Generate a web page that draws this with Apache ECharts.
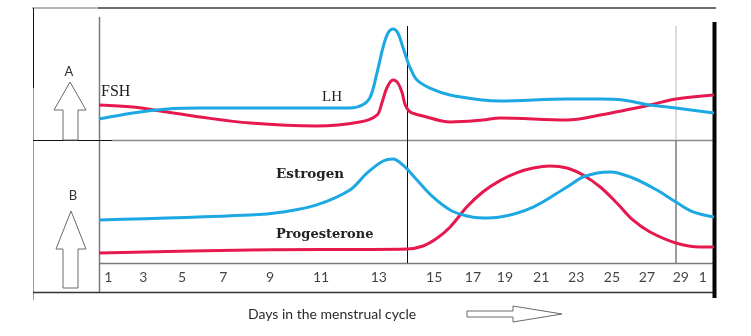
<!DOCTYPE html>
<html>
<head>
<meta charset="utf-8">
<script src="https://cdn.jsdelivr.net/npm/echarts@6/dist/echarts.min.js"></script>
<style>
  html, body { margin: 0; padding: 0; background: #fff; }
  #chart { width: 751px; height: 336px; }
</style>
</head>
<body>
<div id="chart"></div>
<script>
// Horizontal position is expressed as % of the cycle width (0 = day 1, 100 = next day 1).
// Hormone levels are relative (0-100) within each panel.

// Panel A: pituitary hormones
const fshData = [
  [0, 30.7], [5.5, 28.9], [11.1, 24.6], [16.4, 20.2], [24.6, 14.9], [35.4, 12.3],
  [42.4, 15.8], [45.2, 21.9], [46.0, 32.5], [46.8, 45.6], [47.8, 52.6], [48.6, 50.0],
  [49.3, 41.2], [49.8, 30.7], [50.6, 24.6], [52.7, 21.1], [57.1, 15.8], [62.4, 17.5],
  [65.2, 19.3], [76.1, 17.5], [81.5, 21.9], [89.6, 30.7], [93.8, 36.0], [100, 39.5]
];
const lhData = [
  [0, 18.4], [5.5, 23.7], [11.1, 27.2], [16.4, 28.1], [24.6, 28.1], [40.8, 28.1],
  [42.8, 30.7], [44.1, 37.7], [45.2, 58.8], [46.2, 81.6], [47.0, 93.9], [47.8, 97.4],
  [48.6, 93.9], [49.4, 81.6], [50.1, 70.2], [50.6, 63.2], [51.7, 52.6], [53.8, 45.6],
  [57.1, 39.5], [62.4, 35.1], [65.2, 34.2], [76.1, 36.0], [81.5, 36.0], [85.2, 35.1],
  [89.6, 30.7], [93.8, 28.1], [100, 23.7]
];

// Panel B: ovarian hormones
const estrogenData = [
  [0, 35.0], [24.6, 39.0], [29.9, 41.5], [35.4, 47.2], [40.8, 59.3], [43.6, 73.2],
  [46.2, 82.9], [47.8, 84.6], [49.4, 79.7], [51.7, 67.5], [54.3, 53.7], [57.1, 43.1],
  [59.8, 38.2], [62.4, 36.6], [65.2, 37.4], [70.6, 45.5], [76.1, 61.8], [79.0, 70.5],
  [83.1, 74.0], [86.8, 69.1], [90.7, 59.3], [93.8, 49.6], [96.6, 41.5], [100, 37.4]
];
const progesteroneData = [
  [0, 8.1], [24.6, 10.6], [50.1, 11.4], [52.7, 13.8], [55.0, 20.3], [57.1, 29.3],
  [59.8, 45.5], [62.4, 57.7], [65.2, 67.0], [68.0, 73.5], [70.6, 77.2], [73.3, 78.9],
  [76.1, 77.2], [78.7, 71.5], [81.5, 61.8], [84.2, 48.8], [86.8, 35.0], [89.6, 25.2],
  [93.8, 16.3], [97.7, 13.0], [100, 13.0]
];

// Day tick labels and where they sit along the cycle
const dayLabels = ['1', '3', '5', '7', '9', '11', '13', '15', '17', '19', '21', '23', '25', '27', '29', '1'];
const dayPositions = [1.5, 7.2, 13.5, 20.2, 27.8, 36.1, 45.5, 54.5, 60.8, 66.0, 71.9, 77.6, 83.4, 89.1, 94.6, 98.2];

// Ovulation (day 14) and end of cycle markers
const ovulationPos = 50.1;
const cycleEndPos = 93.8;

const RED = '#e5194e';
const BLUE = '#1ca8e2';

const chart = echarts.init(document.getElementById('chart'), null, { renderer: 'canvas' });

const hiddenX = (gridIndex) => ({
  type: 'value', gridIndex, min: 0, max: 100,
  axisLine: { show: false }, axisTick: { show: false }, axisLabel: { show: false }, splitLine: { show: false }
});
const hiddenY = (gridIndex, max) => ({
  type: 'value', gridIndex, min: 0, max,
  axisLine: { show: false }, axisTick: { show: false }, axisLabel: { show: false }, splitLine: { show: false }
});

const curve = (data, color, gridIndex) => ({
  type: 'line', xAxisIndex: gridIndex, yAxisIndex: gridIndex, data,
  smooth: 0.35, showSymbol: false, symbol: 'none',
  lineStyle: { color, width: 3 }, clip: false, silent: true, z: 5
});

const markers = (endColor) => ({
  silent: true, symbol: 'none', label: { show: false },
  data: [
    { xAxis: ovulationPos, lineStyle: { color: '#111', width: 1, type: 'solid' } },
    { xAxis: cycleEndPos, lineStyle: { color: endColor, width: 1.5, type: 'solid' } }
  ]
});

const fshSeries = curve(fshData, RED, 0);
fshSeries.markLine = markers('#cfcfcf');
const progSeries = curve(progesteroneData, RED, 1);
progSeries.markLine = markers('#7a7a7a');

const line = (x1, y1, x2, y2, stroke, lineWidth) => ({
  type: 'line', shape: { x1, y1, x2, y2 }, style: { stroke, lineWidth }, silent: true
});
const arrow = (points) => ({
  type: 'polygon', shape: { points }, style: { fill: '#fff', stroke: '#6a6a6a', lineWidth: 1 }, silent: true
});
const text = (x, y, str, font, fill, align) => ({
  type: 'text', x, y, silent: true,
  style: { text: str, font, fill, align: align || 'left', verticalAlign: 'middle' }
});

chart.setOption({
  animation: false,
  backgroundColor: '#fff',
  grid: [
    { left: 99, top: 26, width: 615, height: 114 },
    { left: 99, top: 140, width: 615, height: 123 },
    { left: 99, top: 263, width: 615, height: 29 }
  ],
  xAxis: [hiddenX(0), hiddenX(1), hiddenX(2)],
  yAxis: [hiddenY(0, 100), hiddenY(1, 100), hiddenY(2, 1)],
  series: [
    fshSeries,
    curve(lhData, BLUE, 0),
    progSeries,
    curve(estrogenData, BLUE, 1),
    {
      type: 'scatter', xAxisIndex: 2, yAxisIndex: 2, symbolSize: 0, silent: true,
      data: dayPositions.map((p, i) => ({ value: [p, 0.5], name: dayLabels[i] })),
      label: {
        show: true, position: 'inside', formatter: (p) => p.name,
        fontFamily: 'Lato', fontSize: 14, color: '#111'
      }
    }
  ],
  graphic: [
    // frame
    line(32, 8, 98, 8, '#b5b5b5', 2),
    line(98, 8, 716, 8, '#6e6e6e', 2),
    line(33.5, 8, 33.5, 88, '#111', 1),
    line(33.5, 88, 33.5, 300, '#9a9a9a', 1),
    line(99.5, 17, 99.5, 292, '#7a7a7a', 1.5),
    line(33, 140.5, 112, 140.5, '#111', 1.2),
    line(112, 140.5, 714, 140.5, '#8a8a8a', 1.5),
    line(99, 263.5, 714, 263.5, '#7a7a7a', 1.5),
    line(33, 292.5, 714, 292.5, '#333', 1.5),
    line(714.5, 22, 714.5, 298, '#050505', 4),
    // panel arrows
    arrow([[70, 82], [86, 110], [78, 110], [78, 140], [63, 140], [63, 110], [54, 110]]),
    arrow([[71, 211], [86, 249], [78, 249], [78, 288], [63, 288], [63, 249], [56, 249]]),
    arrow([[467, 311], [513, 311], [513, 306], [562, 314], [513, 322], [513, 317], [467, 317]]),
    // labels
    text(69, 72, 'A', '13px Lato', '#333', 'center'),
    text(73, 196, 'B', '13px Lato', '#333', 'center'),
    text(101, 92, 'FSH', '16px "Liberation Serif"', '#222'),
    text(322, 97, 'LH', '15px "Liberation Serif"', '#222'),
    text(276, 174, 'Estrogen', 'bold 13.5px "DejaVu Serif"', '#222'),
    text(276, 235, 'Progesterone', 'bold 13px "DejaVu Serif"', '#222'),
    text(248, 314, 'Days in the menstrual cycle', '14px Lato', '#2a2a2a')
  ]
});
</script>
</body>
</html>
